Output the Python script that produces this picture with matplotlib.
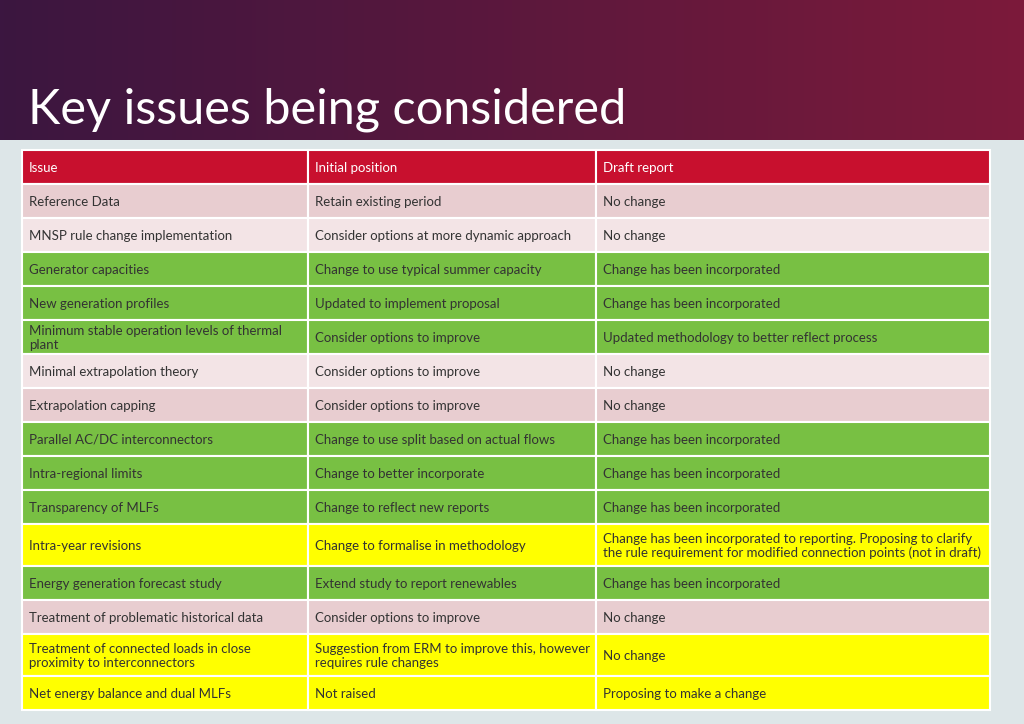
import numpy as np
import matplotlib.pyplot as plt
from matplotlib.patches import Rectangle

title = "Key issues being considered"
headers = ["Issue", "Initial position", "Draft report"]
issues = ["Reference Data", "MNSP rule change implementation", "Generator capacities",
          "New generation profiles", "Minimum stable operation levels of thermal\nplant",
          "Minimal extrapolation theory", "Extrapolation capping", "Parallel AC/DC interconnectors",
          "Intra-regional limits", "Transparency of MLFs", "Intra-year revisions",
          "Energy generation forecast study", "Treatment of problematic historical data",
          "Treatment of connected loads in close\nproximity to interconnectors",
          "Net energy balance and dual MLFs"]
initial = ["Retain existing period", "Consider options at more dynamic approach",
           "Change to use typical summer capacity", "Updated to implement proposal",
           "Consider options to improve", "Consider options to improve", "Consider options to improve",
           "Change to use split based on actual flows", "Change to better incorporate",
           "Change to reflect new reports", "Change to formalise in methodology",
           "Extend study to report renewables", "Consider options to improve",
           "Suggestion from ERM to improve this, however\nrequires rule changes", "Not raised"]
draft = ["No change", "No change", "Change has been incorporated", "Change has been incorporated",
         "Updated methodology to better reflect process", "No change", "No change",
         "Change has been incorporated", "Change has been incorporated", "Change has been incorporated",
         "Change has been incorporated to reporting. Proposing to clarify\nthe rule requirement for modified connection points (not in draft)",
         "Change has been incorporated", "No change", "No change", "Proposing to make a change"]
status = ["pink", "light", "green", "green", "green", "light", "pink", "green", "green", "green",
          "yellow", "green", "pink", "yellow", "yellow"]

colors = {"pink": "#e8cdd0", "light": "#f3e4e6", "green": "#78c043", "yellow": "#ffff00"}

fig = plt.figure(figsize=(10.24, 7.24), dpi=100)
ax = fig.add_axes([0, 0, 1, 1])
ax.set_xlim(0, 1024)
ax.set_ylim(724, 0)
ax.axis("off")

# background
ax.add_patch(Rectangle((0, 0), 1024, 724, color="#dde6e8", zorder=0))
grad = np.linspace(0, 1, 256)[None, :]
cmap = plt.matplotlib.colors.LinearSegmentedColormap.from_list("g", ["#3b1640", "#7c1a3a"])
ax.imshow(grad, extent=(0, 1024, 140, 0), cmap=cmap, aspect="auto", zorder=1)
ax.text(28, 124, title, color="white", fontsize=35, family="Lato", va="baseline", zorder=2)

cols = [22, 308, 596, 990]
y = 150
rows = [(headers, "#c8102e", 34)]
for i in range(len(issues)):
    r = [issues[i], initial[i], draft[i]]
    h = 42 if ("\n" in initial[i] or "\n" in draft[i]) else 34
    rows.append((r, colors[status[i]], h))

for k, (r, c, h) in enumerate(rows):
    for j in range(3):
        ax.add_patch(Rectangle((cols[j], y), cols[j + 1] - cols[j], h, facecolor=c,
                               edgecolor="white", lw=1.5, zorder=2))
        ax.text(cols[j] + 7, y + h / 2 + 1, r[j], fontsize=9.5, family="Lato", va="center",
                color="white" if k == 0 else "#333333", linespacing=1.2, zorder=3)
    y += h

fig.savefig("out.png", dpi=100)
